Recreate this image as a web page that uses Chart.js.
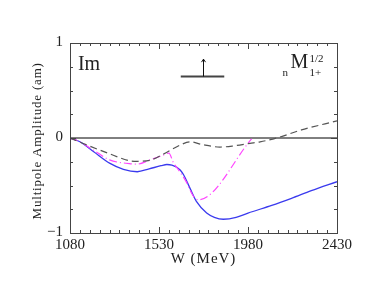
<!DOCTYPE html>
<html>
<head>
<meta charset="utf-8">
<script src="https://cdn.jsdelivr.net/npm/chart.js@4/dist/chart.umd.min.js"></script>
<style>
  html, body { margin: 0; padding: 0; background: #fff; }
  #chart { display: block; }
</style>
</head>
<body>
<canvas id="chart" width="374" height="289"></canvas>
<script>
// energies (MeV) and amplitudes
const solidW = [1080, 1130, 1200, 1280, 1350, 1420, 1480, 1540, 1570, 1595, 1620, 1637, 1655, 1687, 1720, 1771, 1810, 1855, 1920, 1980, 2100, 2200, 2300, 2430];
const solidY = [0, -0.04, -0.145, -0.265, -0.33, -0.355, -0.325, -0.292, -0.279, -0.285, -0.308, -0.337, -0.39, -0.53, -0.67, -0.79, -0.835, -0.855, -0.835, -0.79, -0.71, -0.635, -0.555, -0.46];

const dashW = [1080, 1150, 1272, 1383, 1420, 1484, 1552, 1637, 1687, 1750, 1838, 1900, 1990, 2041, 2125, 2250, 2430];
const dashY = [0, -0.06, -0.16, -0.24, -0.245, -0.235, -0.17, -0.075, -0.04, -0.07, -0.095, -0.085, -0.056, -0.04, 0, 0.085, 0.18];

const dotW = [1080, 1130, 1200, 1280, 1380, 1420, 1484, 1540, 1580, 1603, 1637, 1670, 1700, 1729, 1998];
const dotY = [0, -0.04, -0.13, -0.23, -0.27, -0.275, -0.23, -0.19, -0.16, -0.26, -0.36, -0.47, -0.60, -0.65, -0.01];

const xTickLabels = [1080, 1530, 1980, 2430];
const yTickLabels = [-1, 0, 1];

const serif = '"Liberation Serif", "DejaVu Serif", serif';
const frameColor = '#444';

function pts(xs, ys) {
  return xs.map((x, i) => ({ x: x, y: ys[i] }));
}

const framePlugin = {
  id: 'frame',
  beforeDatasetsDraw(chart) {
    const { ctx, chartArea: a, scales } = chart;
    const y0 = scales.y.getPixelForValue(0);
    ctx.save();
    ctx.strokeStyle = '#000';
    ctx.lineWidth = 1;
    ctx.beginPath();
    ctx.moveTo(a.left, y0);
    ctx.lineTo(a.right, y0);
    ctx.stroke();
    ctx.restore();
  },
  afterDraw(chart) {
    const { ctx, chartArea: a, scales } = chart;
    const xs = scales.x, ys = scales.y;
    ctx.save();
    ctx.strokeStyle = frameColor;
    ctx.lineWidth = 1;
    ctx.strokeRect(a.left + 0.5, a.top + 0.5, a.right - a.left, a.bottom - a.top);

    // x ticks, every 50 MeV, longer at labels
    ctx.beginPath();
    for (let w = 1080; w <= 2430; w += 50) {
      const px = Math.round(xs.getPixelForValue(w)) + 0.5;
      const major = xTickLabels.includes(w);
      const len = major ? 6 : 3;
      ctx.moveTo(px, a.bottom);
      ctx.lineTo(px, a.bottom - len);
      ctx.moveTo(px, a.top);
      ctx.lineTo(px, a.top + len);
    }
    // y ticks, every 0.25
    for (let v = -1; v <= 1.001; v += 0.25) {
      const py = Math.round(ys.getPixelForValue(v)) + 0.5;
      const len = yTickLabels.includes(Math.round(v * 100) / 100) ? 6 : 3;
      ctx.moveTo(a.left, py);
      ctx.lineTo(a.left + len, py);
      ctx.moveTo(a.right, py);
      ctx.lineTo(a.right - len, py);
    }
    ctx.stroke();

    ctx.fillStyle = '#222';
    ctx.font = '15px ' + serif;
    ctx.textAlign = 'center';
    ctx.textBaseline = 'top';
    xTickLabels.forEach(w => {
      ctx.fillText(String(w), xs.getPixelForValue(w), a.bottom + 5);
    });
    ctx.textAlign = 'right';
    ctx.textBaseline = 'middle';
    yTickLabels.forEach(v => {
      const s = v < 0 ? '\u2212' + Math.abs(v) : String(v);
      ctx.fillText(s, a.left - 7, ys.getPixelForValue(v) - 1);
    });

    // axis titles
    ctx.textAlign = 'center';
    ctx.textBaseline = 'top';
    ctx.font = '15px ' + serif;
    ctx.letterSpacing = '1px';
    ctx.fillText('W (MeV)', xs.getPixelForValue(1755), a.bottom + 19);
    ctx.save();
    ctx.translate(a.left - 32, ys.getPixelForValue(-0.03));
    ctx.rotate(-Math.PI / 2);
    ctx.textBaseline = 'middle';
    ctx.font = '13px ' + serif;
    ctx.letterSpacing = '0.8px';
    ctx.fillText('Multipole Amplitude (am)', 0, 0);
    ctx.restore();
    ctx.letterSpacing = '0px';

    // panel labels
    ctx.textAlign = 'left';
    ctx.textBaseline = 'alphabetic';
    ctx.font = '20px ' + serif;
    ctx.fillText('Im', xs.getPixelForValue(1120), ys.getPixelForValue(0.72));

    const mx = xs.getPixelForValue(2195), my = ys.getPixelForValue(0.66);
    ctx.font = '11px ' + serif;
    ctx.fillText('n', mx - 8, my + 1);
    ctx.font = '20px ' + serif;
    ctx.fillText('M', mx, my - 7);
    ctx.font = '11px ' + serif;
    ctx.fillText('1/2', mx + 19, my - 13);
    ctx.fillText('1+', mx + 19, my + 1);

    // bar with arrow
    const bx0 = xs.getPixelForValue(1640), bx1 = xs.getPixelForValue(1860);
    const by = Math.round(ys.getPixelForValue(0.655)) + 0.5;
    ctx.strokeStyle = '#444';
    ctx.lineWidth = 2;
    ctx.beginPath();
    ctx.moveTo(bx0, by);
    ctx.lineTo(bx1, by);
    ctx.stroke();
    const ax = Math.round(xs.getPixelForValue(1752)) + 0.5;
    const at = ys.getPixelForValue(0.83);
    ctx.lineWidth = 1;
    ctx.strokeStyle = '#111';
    ctx.beginPath();
    ctx.moveTo(ax, by);
    ctx.lineTo(ax, at);
    ctx.moveTo(ax - 2, at + 3);
    ctx.lineTo(ax, at);
    ctx.lineTo(ax + 2, at + 3);
    ctx.stroke();
    ctx.restore();
  }
};

const ctx = document.getElementById('chart').getContext('2d');
const chart = new Chart(ctx, {
  type: 'line',
  data: {
    datasets: [
      {
        label: 'dashed',
        data: pts(dashW, dashY),
        borderColor: '#555',
        borderWidth: 1.2,
        borderDash: [7, 4],
        pointRadius: 0,
        cubicInterpolationMode: 'monotone',
        fill: false
      },
      {
        label: 'dash-dot',
        data: pts(dotW, dotY),
        borderColor: '#ff44ff',
        borderWidth: 1.2,
        borderDash: [8, 3, 1, 3],
        pointRadius: 0,
        cubicInterpolationMode: 'monotone',
        fill: false
      },
      {
        label: 'solid',
        data: pts(solidW, solidY),
        borderColor: '#3a3aee',
        borderWidth: 1.3,
        pointRadius: 0,
        cubicInterpolationMode: 'monotone',
        fill: false
      }
    ]
  },
  plugins: [framePlugin],
  options: {
    responsive: false,
    animation: false,
    events: [],
    layout: { padding: { left: 70, right: 37, top: 43, bottom: 56 } },
    plugins: { legend: { display: false }, tooltip: { enabled: false } },
    scales: {
      x: { type: 'linear', min: 1080, max: 2430, display: false },
      y: { type: 'linear', min: -1, max: 1, display: false }
    }
  }
});
</script>
</body>
</html>
